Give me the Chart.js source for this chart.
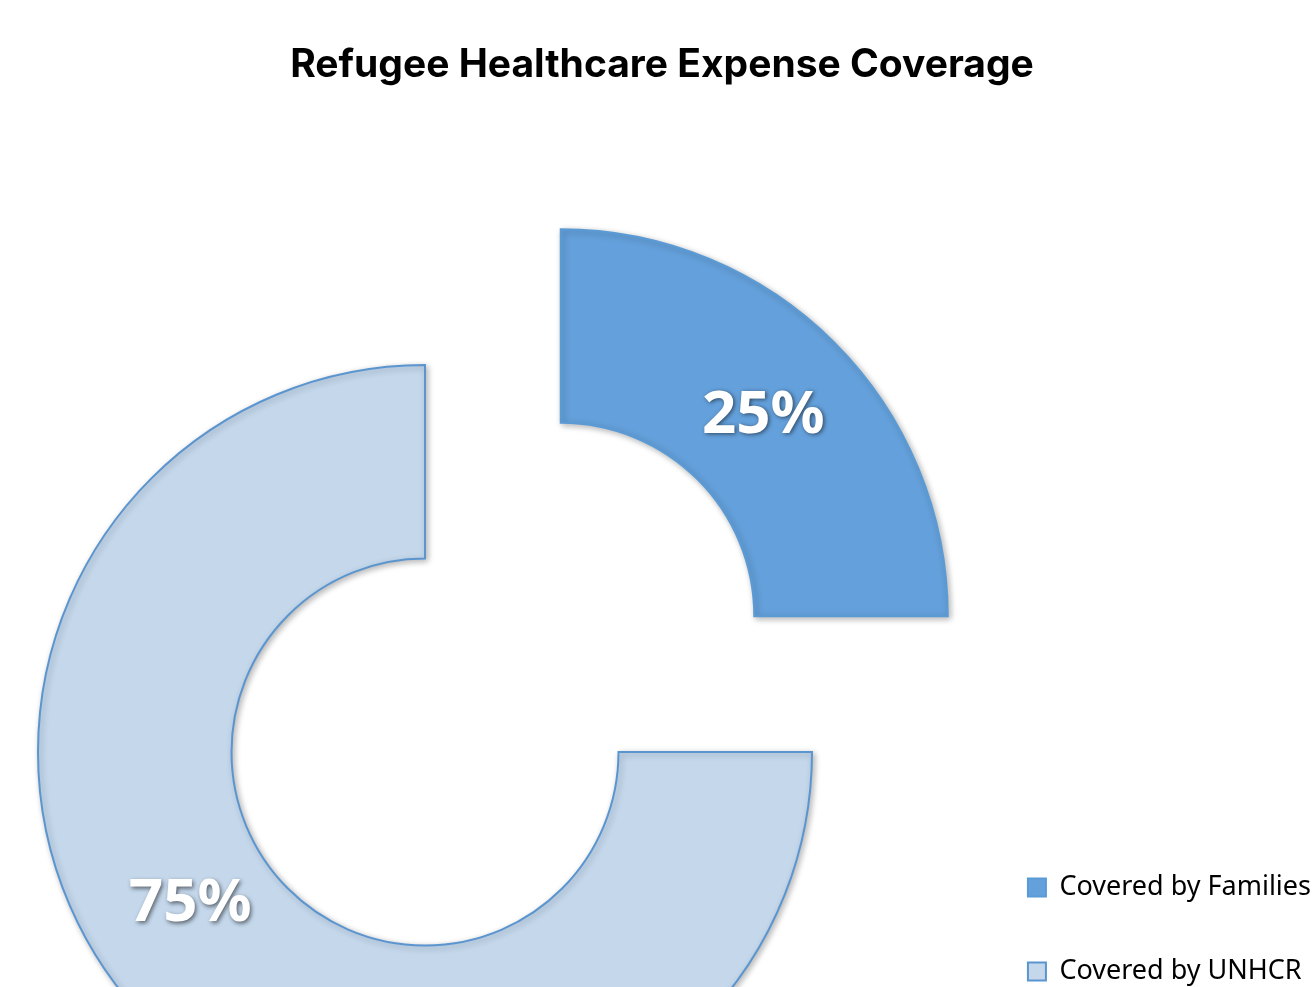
<!DOCTYPE html>
<html>
<head>
<meta charset="utf-8">
<title>Refugee Healthcare Expense Coverage</title>
<script src="https://cdn.jsdelivr.net/npm/chart.js@4"></script>
<style>
  html, body { margin: 0; padding: 0; background: #fff; overflow: hidden; }
  #wrap { width: 1312px; height: 987px; overflow: hidden; position: relative; }
  canvas { display: block; }
</style>
</head>
<body>
<div id="wrap"><canvas id="myChart"></canvas></div>
<script>
// data
const categories = ['Covered by Families', 'Covered by UNHCR'];
const shares = [25, 75];

const FONT = '"Noto Sans", "Open Sans", sans-serif';
Chart.defaults.font.family = FONT;

// legend sits with its first box at x=1027; size the canvas so it ends up there
// (a vertical legend is padding + box + size/2 + text + 10 wide)
const legendSize = 27, legendPad = 57, legendBox = 18;
const canvas = document.getElementById('myChart');
const ctx = canvas.getContext('2d');
ctx.font = legendSize + 'px ' + FONT;
const longest = Math.max(...categories.map(c => ctx.measureText(c).width));
canvas.width = Math.ceil(1027 + legendBox + legendSize / 2 + longest + 10);
canvas.height = 1042;
// title is centred on x=662 in the original
const titleLeft = Math.max(0, 2 * 662 - canvas.width);

// the ring sits low and left in the original, so put its centre there by hand
const ringPlacement = {
    id: 'ringPlacement',
    afterLayout(chart, args, opts) {
        chart.chartArea = {
            left: opts.cx - 1, right: opts.cx + 1,
            top: opts.cy - 1, bottom: opts.cy + 1,
            width: 2, height: 2
        };
    }
};

// soft drop shadow under the slices
const sliceShadow = {
    id: 'sliceShadow',
    beforeDatasetsDraw(chart) {
        const c = chart.ctx;
        c.save();
        c.shadowColor = 'rgba(0,0,0,0.28)';
        c.shadowBlur = 6;
        c.shadowOffsetX = 2;
        c.shadowOffsetY = 2;
    },
    afterDatasetsDraw(chart) {
        chart.ctx.restore();
    }
};

// white percentage labels inside each slice
const sliceLabels = {
    id: 'sliceLabels',
    afterDatasetsDraw(chart, args, opts) {
        const c = chart.ctx;
        const meta = chart.getDatasetMeta(0);
        const values = chart.data.datasets[0].data;
        const total = values.reduce((a, b) => a + b, 0);
        c.save();
        c.font = opts.font;
        c.fillStyle = '#fff';
        c.textAlign = 'center';
        c.textBaseline = 'middle';
        c.shadowColor = 'rgba(0,0,0,0.55)';
        c.shadowBlur = 4;
        c.shadowOffsetX = 1.5;
        c.shadowOffsetY = 1.5;
        meta.data.forEach((arc, i) => {
            const p = arc.getProps(['x', 'y', 'startAngle', 'endAngle', 'innerRadius', 'outerRadius'], true);
            const spot = opts.spots[i];
            const mid = (p.startAngle + p.endAngle) / 2;
            const shift = (arc.options.offset || 0) / 4;   // arcs are translated by offset/4
            const a = p.startAngle + (p.endAngle - p.startAngle) * spot.along;
            const r = p.innerRadius + (p.outerRadius - p.innerRadius) * spot.across;
            const x = p.x + Math.cos(mid) * shift + Math.cos(a) * r;
            const y = p.y + Math.sin(mid) * shift + Math.sin(a) * r;
            c.fillText(Math.round(values[i] / total * 100) + '%', x, y + opts.dy);
        });
        c.restore();
    }
};

new Chart(ctx, {
    type: 'doughnut',
    data: {
        labels: categories,
        datasets: [{
            data: shares,
            backgroundColor: ['#64A0DB', '#C4D7EB'],
            borderColor: ['#5B9BD5', '#5B95D0'],
            borderWidth: 2,
            borderJoinStyle: 'miter',
            offset: [768, 0]
        }]
    },
    options: {
        responsive: false,
        animation: false,
        radius: 387,
        cutout: '50%',
        layout: { padding: { left: titleLeft } },
        plugins: {
            title: {
                display: true,
                text: 'Refugee Healthcare Expense Coverage',
                color: '#000',
                font: { family: 'Inter, "Noto Sans", sans-serif', size: 39, weight: 'bold' },
                padding: { top: 42, bottom: 10 }
            },
            legend: {
                display: true,
                position: 'right',
                align: 'end',
                labels: {
                    color: '#000',
                    font: { size: legendSize },
                    boxWidth: legendBox,
                    boxHeight: legendBox,
                    padding: legendPad
                }
            },
            tooltip: { enabled: false },
            ringPlacement: { cx: 425, cy: 752 },
            sliceLabels: {
                font: 'bold 60px ' + FONT,
                dy: 2,
                spots: [{ along: 0.5, across: 0.48 }, { along: 0.546, across: 0.44 }]
            }
        }
    },
    plugins: [ringPlacement, sliceShadow, sliceLabels]
});
</script>
</body>
</html>
